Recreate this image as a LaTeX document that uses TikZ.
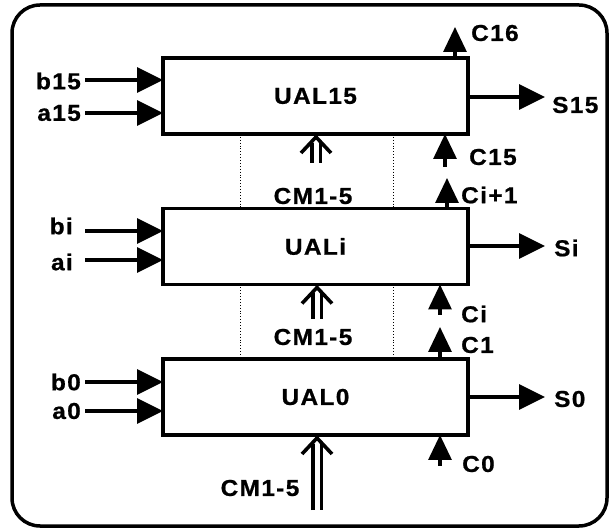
\documentclass[tikz,border=0pt]{standalone}
\usepackage{fontspec}
\setmainfont{Liberation Sans}[LetterSpace=6, FakeStretch=1.06, BoldFeatures={FakeBold=0.8}]
\usetikzlibrary{arrows.meta,calc}
\newcommand\uallbl{\fontsize{23}{27}\selectfont\bfseries}
\begin{document}
\begin{tikzpicture}[x=1pt,y=-1pt,
  box/.style={draw, line width=3.5pt, minimum width=305pt, minimum height=76pt, inner sep=0pt, outer sep=0pt, font=\uallbl},
  lbl/.style={font=\uallbl, inner sep=0pt},
  sig/.style={line width=3.2pt, -{Triangle[length=26pt,width=25pt]}},
  carry/.style={line width=3.2pt, -{Triangle[length=25pt,width=23pt]}},
  busline/.style={line width=3.2pt, double distance=5pt},
  buschev/.style={line width=3.6pt, miter limit=20},
  dotline/.style={line width=0.9pt, dotted}]
\useasboundingbox (0,0) rectangle (611,529);
\draw[line width=3.5pt, rounded corners=28pt] (12,5) rectangle (607,526);

\node[box] (u15) at (315.5,96) {UAL15};
\node[box] (ui) at (315.5,246.5) {UALi};
\node[box] (u0) at (315.5,397) {UAL0};

% dotted separators
\coordinate (d1) at (240,0);
\coordinate (d2) at (393,0);
\draw[dotline] (d1 |- u15.south) -- (d1 |- ui.north);
\draw[dotline] (d2 |- u15.south) -- (d2 |- ui.north);
\draw[dotline] (d1 |- ui.south) -- (d1 |- u0.north);
\draw[dotline] (d2 |- ui.south) -- (d2 |- u0.north);

% inputs
\coordinate (b15s) at (85,80);
\coordinate (a15s) at (85,113);
\coordinate (bis) at (85,231);
\coordinate (ais) at (85,260);
\coordinate (b0s) at (85,382);
\coordinate (a0s) at (85,411);
\draw[sig] (b15s) -- (b15s -| u15.west);
\draw[sig] (a15s) -- (a15s -| u15.west);
\draw[sig] (bis) -- (bis -| ui.west);
\draw[sig] (ais) -- (ais -| ui.west);
\draw[sig] (b0s) -- (b0s -| u0.west);
\draw[sig] (a0s) -- (a0s -| u0.west);
\node[lbl, anchor=east] (lb15) at (81,81) {b15};
\node[lbl, anchor=east] (la15) at (81,113) {a15};
\node[lbl, anchor=east] (lbi) at (73,226) {bi};
\node[lbl, anchor=east] (lai) at (73,262) {ai};
\node[lbl, anchor=east] (lb0) at (81,382) {b0};
\node[lbl, anchor=east] (la0) at (81,411) {a0};

% outputs
\coordinate (s15t) at (545,97);
\coordinate (sit) at (545,246);
\coordinate (s0t) at (545,397);
\draw[sig] (s15t -| u15.east) -- (s15t);
\draw[sig] (sit -| ui.east) -- (sit);
\draw[sig] (s0t -| u0.east) -- (s0t);
\node[lbl, anchor=west] (ls15) at (552,105) {S15};
\node[lbl, anchor=west] (lsi) at (554,248) {Si};
\node[lbl, anchor=west] (ls0) at (554,399) {S0};

% carries
\coordinate (c16t) at (455,27);
\coordinate (c15s) at (445,167);
\coordinate (cipt) at (447,178);
\coordinate (cis) at (440,315);
\coordinate (c1t) at (440,327);
\coordinate (c0s) at (440,466);
\draw[carry] (c16t |- u15.north) -- (c16t);
\draw[carry] (c15s) -- (c15s |- u15.south);
\draw[carry] (cipt |- ui.north) -- (cipt);
\draw[carry] (cis) -- (cis |- ui.south);
\draw[carry] (c1t |- u0.north) -- (c1t);
\draw[carry] (c0s) -- (c0s |- u0.south);
\node[lbl, anchor=west] (lc16) at (471,33) {C16};
\node[lbl, anchor=west] (lc15) at (469,157) {C15};
\node[lbl, anchor=west] (lcip) at (461,195) {Ci+1};
\node[lbl, anchor=west] (lci) at (461,314) {Ci};
\node[lbl, anchor=west] (lc1) at (461,345) {C1};
\node[lbl, anchor=west] (lc0) at (462,464) {C0};

% command buses (double shaft with open chevron head)
\coordinate (bus15) at (316,163);
\coordinate (busi) at (317,319);
\coordinate (bus0) at (317,510);
\coordinate (t15) at (bus15 |- u15.south);
\coordinate (ti) at (busi |- ui.south);
\coordinate (t0) at (bus0 |- u0.south);
\foreach \s/\t in {bus15/t15, busi/ti, bus0/t0}{
  \draw[busline] (\s) -- ($(\t)+(0,9)$);
  \draw[buschev] ($(\t)+(-15,19)$) -- ($(\t)+(0,3)$) -- ($(\t)+(15,19)$);
}
\node[lbl] (cm15) at (313,196) {CM1-5};
\node[lbl] (cmi) at (313,337) {CM1-5};
\node[lbl] (cm0) at (260,488) {CM1-5};
\end{tikzpicture}
\end{document}
